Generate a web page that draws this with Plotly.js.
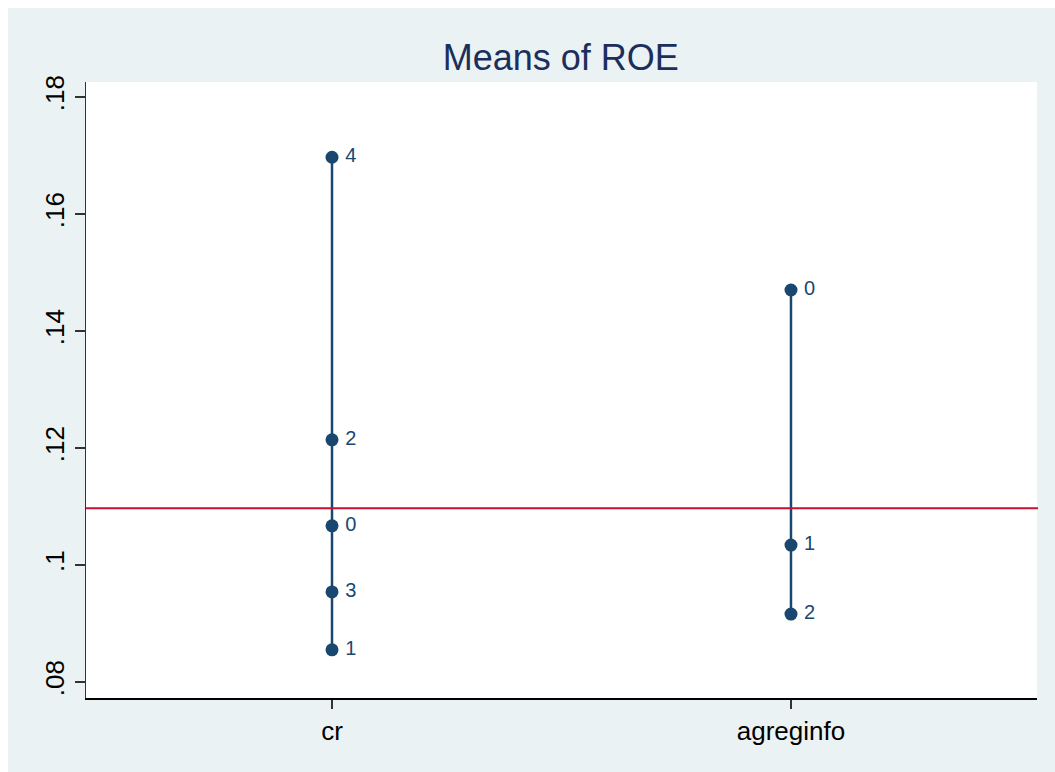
<!DOCTYPE html>
<html>
<head>
<meta charset="utf-8">
<script src="https://cdn.plot.ly/plotly-3.0.1.min.js"></script>
<style>
  html, body { margin: 0; padding: 0; background: #ffffff; overflow: hidden; }
  #chart { position: absolute; left: 8px; top: 8px; width: 1047px; height: 764px; }
</style>
</head>
<body>
<div id="chart"></div>
<script>
// Data
const categories = ['cr', 'agreginfo'];
const crLevels = ['4', '2', '0', '3', '1'];
const crMeans = [0.1697, 0.1214, 0.1067, 0.0954, 0.0855];
const agreginfoLevels = ['0', '1', '2'];
const agreginfoMeans = [0.1470, 0.1034, 0.0916];
const overallMean = 0.1097;
const yTickVals = [0.08, 0.10, 0.12, 0.14, 0.16, 0.18];
const yTickText = ['.08', '.1', '.12', '.14', '.16', '.18'];

const navy = '#1a476f';
const font = 'Liberation Sans, Arial, Helvetica, sans-serif';

const groups = [
  { cat: categories[0], levels: crLevels, means: crMeans },
  { cat: categories[1], levels: agreginfoLevels, means: agreginfoMeans }
];

const traces = [];
groups.forEach(g => {
  traces.push({
    type: 'scatter', mode: 'lines',
    x: [g.cat, g.cat],
    y: [Math.min(...g.means), Math.max(...g.means)],
    line: { color: navy, width: 2.5 },
    hoverinfo: 'skip', showlegend: false
  });
  traces.push({
    type: 'scatter', mode: 'markers+text',
    x: g.means.map(() => g.cat),
    y: g.means,
    text: g.levels.map(s => '\u2009' + s),
    textposition: 'middle right',
    textfont: { family: font, size: 20, color: navy },
    marker: { color: navy, size: 13 },
    cliponaxis: false,
    showlegend: false
  });
});

const layout = {
  width: 1047, height: 764,
  paper_bgcolor: '#eaf2f3',
  plot_bgcolor: '#ffffff',
  margin: { l: 78, r: 18, t: 74, b: 74 },
  showlegend: false,
  title: {
    text: 'Means of ROE',
    font: { family: font, size: 36, color: '#1c2e5c' },
    x: 0.528, xanchor: 'center', y: 0.935, yanchor: 'middle'
  },
  xaxis: {
    type: 'category',
    range: [-0.536, 1.536],
    showgrid: false, zeroline: false,
    showline: true, linecolor: '#000000', linewidth: 2,
    ticks: 'outside', ticklen: 9, tickcolor: '#333333', tickwidth: 1.3,
    tickfont: { family: font, size: 26, color: '#000000' },
    mirror: false
  },
  yaxis: {
    range: [0.07726, 0.18256],
    tickvals: yTickVals, ticktext: yTickText,
    tickangle: -90,
    showgrid: false, zeroline: false,
    showline: true, linecolor: '#333333', linewidth: 1.3,
    ticks: 'outside', ticklen: 10, tickcolor: '#333333', tickwidth: 1.3,
    tickfont: { family: font, size: 26, color: '#000000' }
  },
  shapes: [{
    type: 'line', xref: 'paper', yref: 'y',
    x0: 0, x1: 1.001, y0: overallMean, y1: overallMean,
    line: { color: '#c8102e', width: 2 }
  }]
};

Plotly.newPlot('chart', traces, layout, { displayModeBar: false, staticPlot: true });
</script>
</body>
</html>
